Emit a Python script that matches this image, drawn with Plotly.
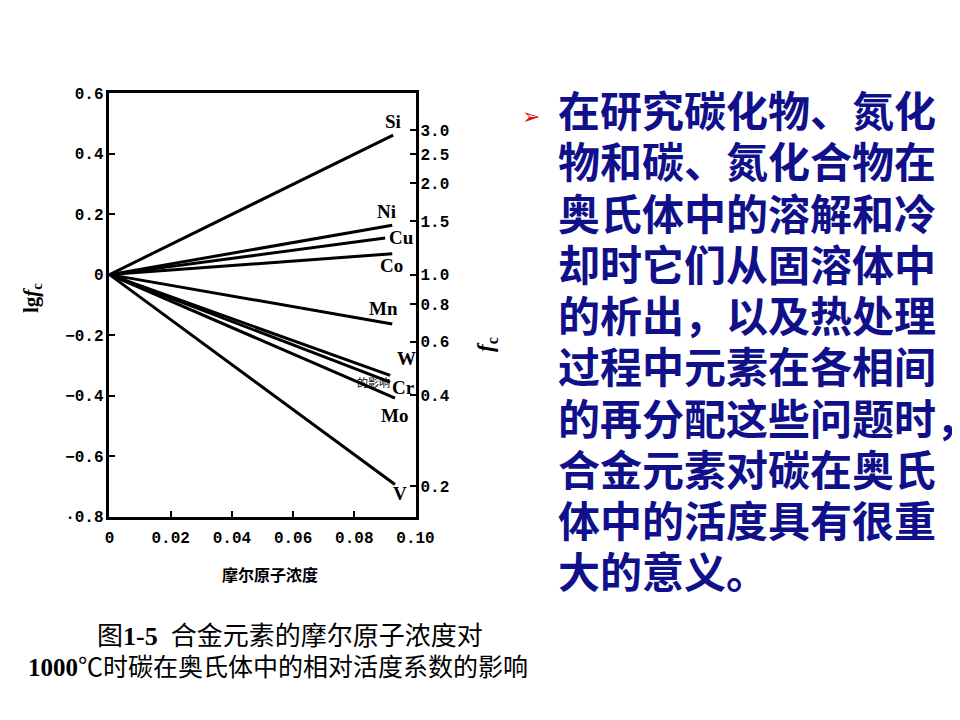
import plotly.graph_objects as go

# ---- data ----
elements = ["Si", "Ni", "Cu", "Co", "Mn", "W", "Cr", "Mo", "V"]
end_conc = [0.0927, 0.0924, 0.0901, 0.0924, 0.0924, 0.0917, 0.0917, 0.0933, 0.0933]
end_lgfc = [0.461, 0.163, 0.121, 0.069, -0.163, -0.333, -0.355, -0.408, -0.693]

x_ticks = [0, 0.02, 0.04, 0.06, 0.08, 0.10]
x_ticktext = ["0", "0.02", "0.04", "0.06", "0.08", "0.10"]
y_ticks = [0.6, 0.4, 0.2, 0, -0.2, -0.4, -0.6, -0.8]
y_ticktext = ["0.6", "0.4", "0.2", "0", "−0.2", "−0.4", "−0.6", "·0.8"]
fc_ticks = [3.0, 2.5, 2.0, 1.5, 1.0, 0.8, 0.6, 0.4, 0.2]
fc_ticktext = ["3.0", "2.5", "2.0", "1.5", "1.0", "0.8", "0.6", "0.4", "0.2"]

text_lines = [
    "在研究碳化物、氮化",
    "物和碳、氮化合物在",
    "奥氏体中的溶解和冷",
    "却时它们从固溶体中",
    "的析出，以及热处理",
    "过程中元素在各相间",
    "的再分配这些问题时，",
    "合金元素对碳在奥氏",
    "体中的活度具有很重",
    "大的意义。",
]
caption1 = "图<b>1-5</b>  合金元素的摩尔原子浓度对"
caption2 = "<b>1000</b>℃时碳在奥氏体中的相对活度系数的影响"
x_title = "摩尔原子浓度"

# ---- layout helpers (page body has an 8px margin; page = 960x720) ----
OFF = 8
W, H = 960 - 2 * OFF, 720 - 2 * OFF
def px(x):
    return (x - OFF) / W
def py(y):
    return 1 - (y - OFF) / H

# label pixel offsets (dx right, dy up) from line end
label_shift = {
    "Si": (0, 14), "Ni": (-6, 14), "Cu": (16, 0), "Co": (-1, -12),
    "Mn": (-9, 15), "W": (16, 17), "Cr": (13, -5), "Mo": (0, -17), "V": (5, -9),
}

fig = go.Figure()
for name, xe, ye in zip(elements, end_conc, end_lgfc):
    fig.add_trace(go.Scatter(
        x=[0, xe], y=[0, ye], mode="lines",
        line=dict(color="black", width=3), showlegend=False, hoverinfo="skip",
    ))
# invisible trace to activate right log axis
fig.add_trace(go.Scatter(x=[0], y=[1.0], yaxis="y2", mode="markers",
                         marker=dict(opacity=0), showlegend=False, hoverinfo="skip"))

tickfont = dict(family="Liberation Mono, DejaVu Sans Mono", size=16, color="black",
                weight="bold")

fig.update_layout(
    width=W, height=H,
    margin=dict(l=0, r=0, t=0, b=0),
    paper_bgcolor="white", plot_bgcolor="white",
    xaxis=dict(
        domain=[px(107), px(421)], range=[0, 0.10],
        tickvals=x_ticks, ticktext=x_ticktext, tickfont=tickfont,
        ticks="inside", ticklen=6, tickwidth=2, tickcolor="black",
        ticklabelstandoff=4,
        showline=True, linewidth=2.5, linecolor="black", mirror=True,
        showgrid=False, zeroline=False,
    ),
    yaxis=dict(
        domain=[py(523), py(88)], range=[-0.8, 0.6],
        tickvals=y_ticks, ticktext=y_ticktext, tickfont=tickfont,
        ticks="inside", ticklen=6, tickwidth=2, tickcolor="black",
        showline=True, linewidth=2.5, linecolor="black", mirror=True,
        showgrid=False, zeroline=False,
    ),
    yaxis2=dict(
        overlaying="y", side="right", anchor="x", type="log",
        range=[-0.8, 0.6],
        tickvals=fc_ticks, ticktext=fc_ticktext, tickfont=tickfont,
        ticks="inside", ticklen=6, tickwidth=2, tickcolor="black",
        ticklabelstandoff=4,
        showline=False, showgrid=False, zeroline=False,
    ),
)

def paper_ann(x, y, text, font, xanchor="center", angle=0):
    return dict(x=px(x), y=py(y), xref="paper", yref="paper", text=text,
                showarrow=False, xanchor=xanchor, yanchor="middle",
                textangle=angle, font=font)

ann = []
for name, xe, ye in zip(elements, end_conc, end_lgfc):
    dx, dy = label_shift[name]
    ann.append(dict(x=xe, y=ye, xref="x", yref="y", text="<b>%s</b>" % name,
                    showarrow=False, xshift=dx, yshift=dy,
                    xanchor="center", yanchor="middle",
                    font=dict(family="Liberation Serif", size=19, color="black")))

# stray text fragment on the scanned figure
ann.append(paper_ann(378, 385, "的影响",
                     dict(family="Noto Sans CJK SC", size=11, color="black")))

# axis titles
ann.append(paper_ann(27, 299, "<b>lg<i>f</i><sub>c</sub></b>",
                     dict(family="Liberation Serif", size=21, color="black"), angle=-90))
ann.append(paper_ann(495, 346, "<b><i>f</i><sub>c</sub></b>",
                     dict(family="Liberation Serif", size=23, color="black"), angle=-90))
ann.append(paper_ann(272, 582, "<b>%s</b>" % x_title,
                     dict(family="Noto Sans CJK SC", size=16, color="black")))

# captions
capfont = dict(family="Liberation Serif, Noto Sans CJK SC", size=26, color="black")
ann.append(paper_ann(292, 646, caption1, capfont))
ann.append(paper_ann(280, 678, caption2, dict(capfont, size=25)))

# bullet and body text
ann.append(paper_ann(539, 112, "➢", dict(family="DejaVu Sans", size=22, color="#e01010")))
for i, line in enumerate(text_lines):
    ann.append(paper_ann(565, 104 + i * 52.6, line,
                         dict(family="Noto Sans CJK SC", size=42, color="#10108a",
                              weight="bold"), xanchor="left"))

fig.update_layout(annotations=ann)
fig.write_html("out.html")
